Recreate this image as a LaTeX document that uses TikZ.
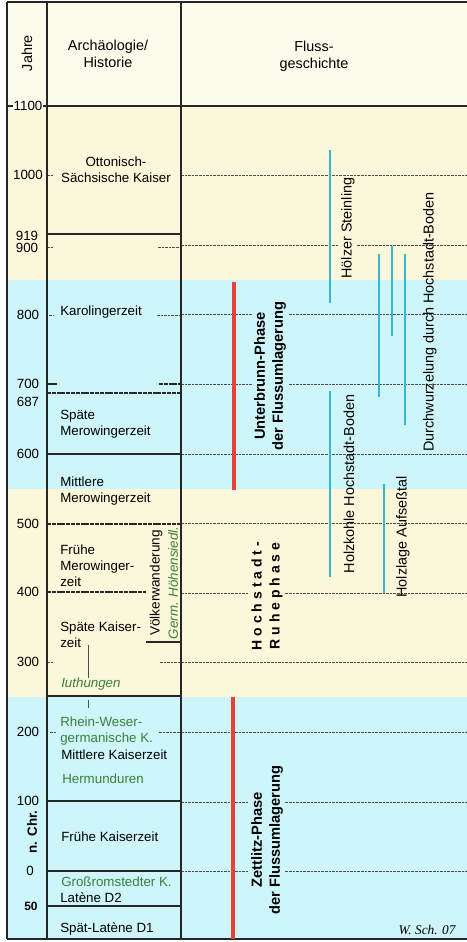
\documentclass[tikz,border=0pt]{standalone}
\usepackage{fontspec}
\setmainfont{Liberation Sans}
\newfontfamily\serifit{Liberation Serif}
\definecolor{bandyellow}{RGB}{251,247,218}
\definecolor{bandblue}{RGB}{205,245,250}
\definecolor{headcream}{RGB}{253,252,236}
\definecolor{barred}{RGB}{232,66,56}
\definecolor{barcyan}{RGB}{58,182,204}
\definecolor{mygreen}{RGB}{58,128,58}
\begin{document}
\begin{tikzpicture}[x=0.75pt,y=-0.75pt,
  txt/.style={font=\fontsize{10}{12}\selectfont, inner sep=0pt},
  htxt/.style={font=\fontsize{10.8}{13}\selectfont, inner sep=0pt, align=center},
  lbl/.style={txt, anchor=west},
  grn/.style={text=mygreen},
  rtxt/.style={font=\fontsize{10.8}{13}\selectfont, inner sep=1.5pt, rotate=90},
  btxt/.style={font=\bfseries\fontsize{11}{13.5}\selectfont, inner sep=1.5pt, rotate=90, align=center},
  dashline/.style={draw=black!70, line width=0.6pt, dash pattern=on 2pt off 0.7pt},
  darkdash/.style={draw=black!85, line width=0.8pt, dash pattern=on 3pt off 0.6pt},
  solidline/.style={draw=black!85, line width=0.8pt},
  frameline/.style={draw=black!85, line width=1.1pt},
  redbar/.style={draw=barred, line width=3pt},
  cyanbar/.style={draw=barcyan, line width=2.2pt},
  thinline/.style={draw=black!70, line width=0.5pt}]
\useasboundingbox (0,0) rectangle (467,942);
% background bands
\fill[headcream] (7,2) rectangle (467,106);
\fill[bandyellow] (7,106) rectangle (467,280);
\fill[bandblue] (7,280) rectangle (467,489);
\fill[bandyellow] (7,489) rectangle (467,697);
\fill[bandblue] (7,697) rectangle (467,939);
% right column dashed century lines
\foreach \yr in {1000,900,800,700,600,500,400,300,200,100,0}
  \draw[dashline] (181,{106+(1100-\yr)*0.696}) -- (467,{106+(1100-\yr)*0.696});
% middle column short ticks
\draw[dashline] (47,175) -- (53,175);
\draw[dashline] (47,247) -- (53,247) (158,247) -- (181,247);
\draw[dashline] (49,315) -- (54,315) (157,315) -- (181,315);
\draw[solidline] (47,384) -- (57,384);
\draw[darkdash] (159,384) -- (181,384);
\draw[dashline] (47,662) -- (53,662) (160,662) -- (181,662);
\draw[dashline] (50,732) -- (56,732) (159,732) -- (181,732);
\draw[darkdash] (47,592) -- (146,592);
\draw[darkdash] (47,393) -- (181,393);
\draw[darkdash] (47,524) -- (181,524);
% solid period lines
\foreach \yy in {234,454,696,801,871,906}
  \draw[solidline] (47,\yy) -- (181,\yy);
\draw[solidline] (146,642) -- (181,642);
\draw[thinline] (88,645) -- (88,678) (88,700) -- (88,708);
% frame
\draw[frameline] (7,2) -- (467,2);
\draw[frameline] (7,106) -- (467,106);
\draw[frameline] (7,939) -- (467,939);
\draw[frameline] (7,2) -- (7,939);
\draw[frameline] (47,2) -- (47,939);
\draw[frameline] (181,2) -- (181,939);
% header
\node[htxt, rotate=90] (jahre) at (27,53) {Jahre};
\node[htxt] (archhead) at (108,54) {Archäologie/\\Historie};
\node[htxt] (flusshead) at (314,56) {Fluss-\\geschichte};
% year numbers
\node[txt, fill=headcream, inner sep=0.5pt] (y1100) at (28,106) {1100};
\node[txt] (y1000) at (28,175) {1000};
\node[txt] (y919) at (27,236) {919};
\node[txt] (y900) at (27,248) {900};
\node[txt] (y800) at (28,315) {800};
\node[txt] (y700) at (28,384) {700};
\node[txt] (y687) at (28,402) {687};
\node[txt] (y600) at (28,454) {600};
\node[txt] (y500) at (28,524) {500};
\node[txt] (y400) at (28,592) {400};
\node[txt] (y300) at (28,662) {300};
\node[txt] (y200) at (28,732) {200};
\node[txt] (y100) at (28,801) {100};
\node[txt] (y0) at (30,871) {0};
\node[txt, font=\bfseries\fontsize{9}{11}\selectfont] (y50) at (31,906) {50};
\node[txt, font=\bfseries\fontsize{10}{12}\selectfont, rotate=90] (nchr) at (32,832) {n. Chr.};
% middle column
\node[txt, align=center] (otto) at (116,170) {Ottonisch-\\Sächsische Kaiser};
\node[lbl] (karo) at (60,312) {Karolingerzeit};
\node[lbl, align=left] (spmero) at (60,424) {Späte\\Merowingerzeit};
\node[lbl, align=left] (mimero) at (60,491) {Mittlere\\Merowingerzeit};
\node[lbl, align=left] (frmero) at (60,566) {Frühe\\Merowinger-\\zeit};
\node[lbl, align=left] (spkais) at (60,635) {Späte Kaiser-\\zeit};
\node[lbl, grn, font=\itshape\fontsize{10}{12}\selectfont] (iuth) at (61,684) {Iuthungen};
\node[lbl, grn, align=left] (rhein) at (60,731) {Rhein-Weser-\\germanische K.};
\node[lbl] (mikais) at (61,755) {Mittlere Kaiserzeit};
\node[lbl, grn] (hermun) at (62,779) {Hermunduren};
\node[lbl] (frkais) at (61,837) {Frühe Kaiserzeit};
\node[lbl, grn] (gross) at (61,882) {Großromstedter K.};
\node[lbl] (latd2) at (60,898) {Latène D2};
\node[lbl] (latd1) at (60,929) {Spät-Latène D1};
\node[txt, rotate=90, font=\fontsize{10.2}{12}\selectfont] (voelk) at (156,583) {Völkerwanderung};
\node[txt, rotate=90, grn, font=\itshape\fontsize{10}{12}\selectfont] (germ) at (173,583) {Germ. Höhensiedl.};
% bars
\coordinate (r1a) at (234,282); \coordinate (r1b) at (234,490);
\coordinate (r2a) at (233,697); \coordinate (r2b) at (233,939);
\draw[redbar] (r1a) -- (r1b);
\draw[redbar] (r2a) -- (r2b);
\coordinate (c1a) at (330,150); \coordinate (c1b) at (330,303);
\coordinate (c2a) at (330,391); \coordinate (c2b) at (330,577);
\coordinate (c3a) at (379,254); \coordinate (c3b) at (379,397);
\coordinate (c4a) at (392,246); \coordinate (c4b) at (392,336);
\coordinate (c5a) at (405,254); \coordinate (c5b) at (405,425);
\coordinate (c6a) at (384,484); \coordinate (c6b) at (384,593);
\foreach \n in {1,...,6} \draw[cyanbar] (c\n a) -- (c\n b);
% river history texts
\node[rtxt, fill=bandyellow] (hoelzer) at (348,228) {Hölzer Steinling};
\node[rtxt] (durch) at (430,322) {Durchwurzelung durch Hochstadt-Boden};
\node[rtxt] (holzkohle) at (349,484) {Holzkohle Hochstadt-Boden};
\node[rtxt] (holzlage) at (403,537) {Holzlage Aufseßtal};
\node[btxt, fill=bandblue] (unter) at (270,376) {Unterbrunn-Phase\\der Flussumlagerung};
\node[btxt, fill=bandyellow, font=\bfseries\fontsize{10.5}{13.5}\selectfont\addfontfeatures{LetterSpace=28}] (hoch) at (267,596) {Hochstadt-\\Ruhephase};
\node[btxt, fill=bandblue] (zett) at (267,840) {Zettlitz-Phase\\der Flussumlagerung};
\node[txt, font=\serifit\itshape\fontsize{10}{12}\selectfont] (sign) at (427,930) {W. Sch. 07};
\end{tikzpicture}
\end{document}
